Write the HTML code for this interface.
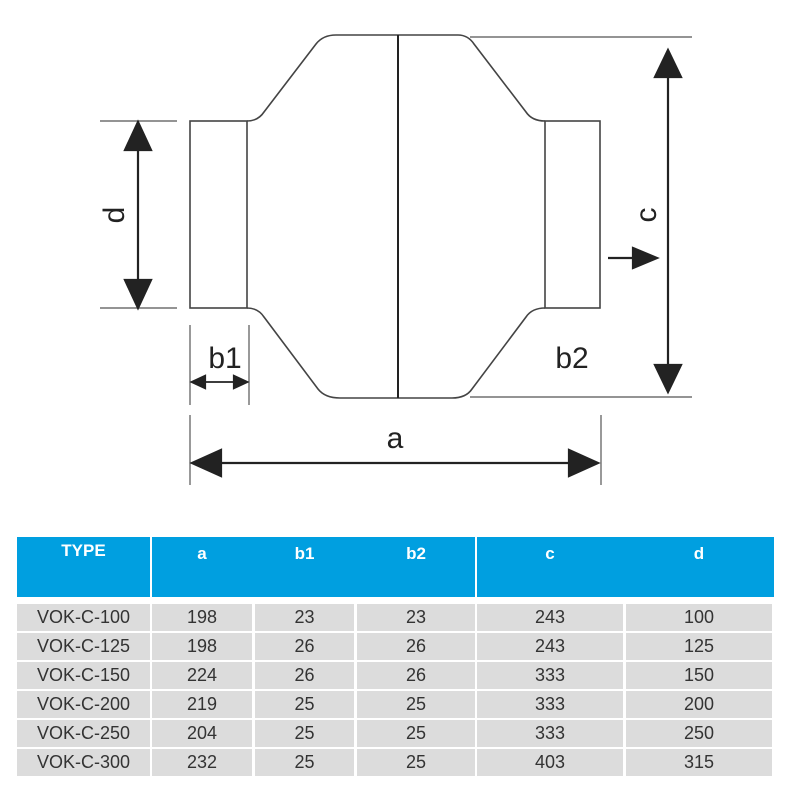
<!DOCTYPE html>
<html><head><style>
body{margin:0;width:800px;height:800px;background:#fff;overflow:hidden;position:relative;font-family:"Liberation Sans",sans-serif}
.c{position:absolute;background:#dcdcdc;color:#333;font-size:18px;text-align:center;line-height:27px;height:27px}
.h{position:absolute;color:#fff;font-weight:bold;font-size:17px;text-align:center}
</style></head><body>
<svg width="800" height="520" style="position:absolute;left:0;top:0" font-family="Liberation Sans, sans-serif">
<g fill="none" stroke="#444" stroke-width="1.6">
<rect x="190" y="121" width="57" height="187"/>
<rect x="545" y="121" width="55" height="187"/>
<path d="M247 121 Q258 121 264 112 L316 44 Q323 35 336 35 L458 35 Q468 35 474 44 L526 112 Q532 121 545 121"/>
<path d="M247 308 Q258 308 264 317 L318 389 Q325 398 340 398 L452 398 Q466 398 472 389 L526 317 Q532 308 545 308"/>
<line x1="398" y1="35" x2="398" y2="398" stroke="#222" stroke-width="2"/>
</g>
<g stroke="#555" stroke-width="1.2">
<line x1="470" y1="37" x2="692" y2="37"/><line x1="470" y1="397" x2="692" y2="397"/>
<line x1="100" y1="121" x2="177" y2="121"/><line x1="100" y1="308" x2="177" y2="308"/>
<line x1="190" y1="325" x2="190" y2="405"/><line x1="249" y1="325" x2="249" y2="405"/>
<line x1="190" y1="415" x2="190" y2="485"/><line x1="601" y1="415" x2="601" y2="485"/>
</g>
<g stroke="#222" stroke-width="2.2" fill="#222">
<line x1="668" y1="70" x2="668" y2="370"/>
<polygon points="668,50 655,77 681,77"/><polygon points="668,392 655,365 681,365"/>
<line x1="138" y1="140" x2="138" y2="290"/>
<polygon points="138,122 125,150 151,150"/><polygon points="138,308 125,280 151,280"/>
<line x1="210" y1="463" x2="580" y2="463"/>
<polygon points="192,463 221,450 221,476"/><polygon points="598,463 569,450 569,476"/>
<line x1="200" y1="382" x2="240" y2="382" stroke-width="1.8"/>
<polygon points="192,382 205,376 205,388"/><polygon points="247,382 234,376 234,388"/>
<line x1="608" y1="258" x2="640" y2="258"/>
<polygon points="657,258 633,248 633,268"/>
</g>
<g fill="#222" font-size="30">
<text x="395" y="448" text-anchor="middle">a</text>
<text x="225" y="368" text-anchor="middle">b1</text>
<text x="572" y="368" text-anchor="middle">b2</text>
<text transform="translate(656,215) rotate(-90)" text-anchor="middle">c</text>
<text transform="translate(124,215) rotate(-90)" text-anchor="middle">d</text>
</g>
</svg>
<div style="position:absolute;left:17px;top:537px;width:757px;height:60px;background:#009fe0"></div>
<div style="position:absolute;left:150px;top:537px;width:2px;height:60px;background:#fff"></div>
<div style="position:absolute;left:475px;top:537px;width:2px;height:60px;background:#fff"></div>
<div class="h" style="left:17px;top:541px;width:133px">TYPE</div>
<div class="h" style="left:152px;top:544px;width:100px">a</div>
<div class="h" style="left:255px;top:544px;width:99px">b1</div>
<div class="h" style="left:357px;top:544px;width:118px">b2</div>
<div class="h" style="left:477px;top:544px;width:146px">c</div>
<div class="h" style="left:626px;top:544px;width:146px">d</div>
<div id="t"></div>
<script>
var rows=[["VOK-C-100","198","23","23","243","100"],["VOK-C-125","198","26","26","243","125"],["VOK-C-150","224","26","26","333","150"],["VOK-C-200","219","25","25","333","200"],["VOK-C-250","204","25","25","333","250"],["VOK-C-300","232","25","25","403","315"]];
var cols=[[17,133],[152,100],[255,99],[357,118],[477,146],[626,146]];
var tops=[604,633,662,691,720,749];var h="";
rows.forEach(function(r,i){r.forEach(function(v,j){h+='<div class="c" style="left:'+cols[j][0]+'px;top:'+tops[i]+'px;width:'+cols[j][1]+'px">'+v+'</div>';});});
document.getElementById('t').innerHTML=h;
</script>
</body></html>
